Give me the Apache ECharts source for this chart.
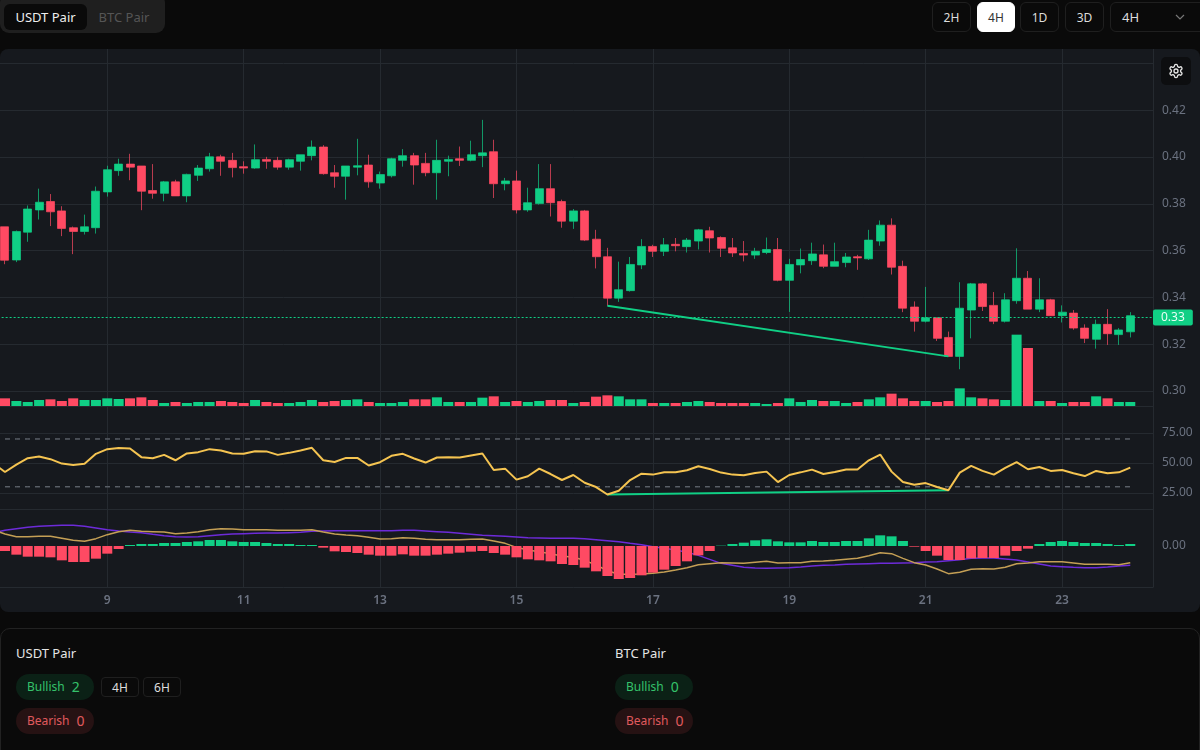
<!DOCTYPE html>
<html>
<head>
<meta charset="utf-8">
<title>USDT Pair</title>
<script src="https://cdn.jsdelivr.net/npm/echarts@6/dist/echarts.min.js"></script>
<style>
html,body{margin:0;padding:0;width:1200px;height:750px;overflow:hidden;background:#0a0a0a;font-family:"Noto Sans",sans-serif;color:#e5e5e5}
.abs{position:absolute;box-sizing:border-box}
.btn{display:flex;align-items:center;justify-content:center;border:1px solid #1f1f1f;border-radius:6px;font-size:12px;color:#ddd;background:#0a0a0a}
#panel{left:0;top:49px;width:1200px;height:563px;background:#16191e;border-radius:8px;overflow:hidden}
#main{position:absolute;left:-20px;top:0;width:1220px;height:563px}
.pill{display:flex;align-items:center;border-radius:13px;font-size:12px;padding-left:11px;padding-bottom:2px;width:78px;height:26px}
.pill b{font-weight:400;font-size:14px;margin-left:7px}
.bull{background:#0b2116;color:#35c26b}
.bear{background:#261213;color:#e05a5e}
.title{font-size:13px;color:#e5e5e5;line-height:20px}
</style>
</head>
<body>
<div class="abs" style="left:0;top:-6px;width:165px;height:39px;background:#1f1f1f;border-radius:9px"></div>
<div class="abs" style="left:4px;top:4px;width:83px;height:26px;background:#0a0a0a;border-radius:6px;display:flex;align-items:center;justify-content:center;font-size:13px;color:#eee">USDT Pair</div>
<div class="abs" style="left:87px;top:4px;width:74px;height:26px;display:flex;align-items:center;justify-content:center;font-size:13px;color:#555">BTC Pair</div>

<div class="abs btn" style="left:932px;top:2px;width:39px;height:30px">2H</div>
<div class="abs btn" style="left:977px;top:2px;width:38px;height:30px;background:#fff;color:#333;border-color:#fff">4H</div>
<div class="abs btn" style="left:1020px;top:2px;width:39px;height:30px">1D</div>
<div class="abs btn" style="left:1065px;top:2px;width:39px;height:30px">3D</div>
<div class="abs btn" style="left:1110px;top:2px;width:96px;height:30px;justify-content:flex-start;padding-left:11px;font-size:13px">4H</div>
<svg class="abs" style="left:1174px;top:11px" width="12" height="12" viewBox="0 0 12 12" fill="none" stroke="#777" stroke-width="1.2"><path d="M2 4l4 4 4-4"/></svg>

<div id="panel" class="abs"><div id="main"></div></div>
<div class="abs" style="left:1161px;top:57px;width:30px;height:28px;background:#0d0e10;border-radius:5px;display:flex;align-items:center;justify-content:center">
<svg width="16" height="16" viewBox="0 0 24 24" fill="none" stroke="#e5e5e5" stroke-width="2"><path d="M12.22 2h-.44a2 2 0 0 0-2 2v.18a2 2 0 0 1-1 1.73l-.43.25a2 2 0 0 1-2 0l-.15-.08a2 2 0 0 0-2.73.73l-.22.38a2 2 0 0 0 .73 2.73l.15.1a2 2 0 0 1 1 1.72v.51a2 2 0 0 1-1 1.74l-.15.09a2 2 0 0 0-.73 2.73l.22.38a2 2 0 0 0 2.73.73l.15-.08a2 2 0 0 1 2 0l.43.25a2 2 0 0 1 1 1.73V20a2 2 0 0 0 2 2h.44a2 2 0 0 0 2-2v-.18a2 2 0 0 1 1-1.73l.43-.25a2 2 0 0 1 2 0l.15.08a2 2 0 0 0 2.73-.73l.22-.39a2 2 0 0 0-.73-2.73l-.15-.08a2 2 0 0 1-1-1.74v-.5a2 2 0 0 1 1-1.74l.15-.09a2 2 0 0 0 .73-2.73l-.22-.38a2 2 0 0 0-2.73-.73l-.15.08a2 2 0 0 1-2 0l-.43-.25a2 2 0 0 1-1-1.73V4a2 2 0 0 0-2-2z"/><circle cx="12" cy="12" r="3"/></svg>
</div>

<div class="abs" style="left:0;top:628px;width:1200px;height:140px;border:1px solid #222;border-radius:10px"></div>
<div class="abs title" style="left:16px;top:643px">USDT Pair</div>
<div class="abs pill bull" style="left:16px;top:674px">Bullish<b>2</b></div>
<div class="abs pill bear" style="left:16px;top:708px">Bearish<b>0</b></div>
<div class="abs btn" style="left:101px;top:677px;width:38px;height:20px;border-radius:4px">4H</div>
<div class="abs btn" style="left:143px;top:677px;width:38px;height:20px;border-radius:4px">6H</div>
<div class="abs title" style="left:615px;top:643px">BTC Pair</div>
<div class="abs pill bull" style="left:615px;top:674px">Bullish<b>0</b></div>
<div class="abs pill bear" style="left:615px;top:708px">Bearish<b>0</b></div>

<script>
// 4H candles, one leading bar sits off the left edge
var opens = [.3680,
  .3702,.3560,.3679,.3774,.3810,.3770,.3698,.3682,.3698,.3851,
  .3942,.3970,.3962,.3857,.3845,.3894,.3834,.3922,.3950,.4001,
  .3986,.3959,.3953,.3990,.3986,.3957,.3982,.4006,.4043,.3933,
  .3918,.3957,.3966,.3889,.3920,.3986,.4006,.3973,.3933,.3982,
  .3993,.3986,.4006,.4023,.3886,.3898,.3774,.3801,.3865,.3810,
  .3726,.3770,.3649,.3574,.3397,.3429,.3539,.3618,.3597,.3627,
  .3617,.3641,.3685,.3656,.3612,.3588,.3581,.3592,.3605,.3473,
  .3539,.3557,.3582,.3533,.3549,.3574,.3565,.3641,.3709,.3533,
  .3359,.3298,.3313,.3229,.3148,.3346,.3458,.3366,.3298,.3386,
  .3482,.3350,.3390,.3322,.3333,.3269,.3221,.3285,.3241,.3253]
var closes = [.3700,
  .3559,.3682,.3778,.3807,.3766,.3695,.3682,.3702,.3854,.3946,
  .3970,.3957,.3854,.3845,.3894,.3834,.3926,.3953,.4001,.3982,
  .3955,.3953,.3989,.3982,.3957,.3989,.4010,.4043,.3929,.3918,
  .3962,.3963,.3894,.3925,.3993,.4006,.3966,.3933,.3986,.3990,
  .3986,.4010,.4018,.3886,.3898,.3774,.3805,.3865,.3805,.3726,
  .3770,.3645,.3574,.3397,.3433,.3541,.3618,.3597,.3625,.3621,
  .3645,.3689,.3654,.3610,.3590,.3581,.3597,.3605,.3473,.3541,
  .3562,.3586,.3533,.3553,.3573,.3569,.3645,.3709,.3529,.3354,
  .3298,.3313,.3225,.3148,.3354,.3458,.3361,.3298,.3390,.3482,
  .3350,.3390,.3322,.3337,.3269,.3225,.3285,.3245,.3261,.3322]
var lows = [.3660,
  .3542,.3551,.3638,.3733,.3705,.3662,.3585,.3669,.3673,.3831,
  .3920,.3901,.3773,.3822,.3811,.3834,.3807,.3898,.3938,.3920,
  .3913,.3929,.3950,.3950,.3946,.3946,.3942,.3986,.3925,.3869,
  .3818,.3922,.3869,.3865,.3913,.3959,.3882,.3918,.3818,.3918,
  .3962,.3982,.3957,.3825,.3858,.3759,.3766,.3797,.3746,.3698,
  .3693,.3641,.3524,.3364,.3381,.3425,.3521,.3573,.3577,.3597,
  .3592,.3605,.3592,.3573,.3573,.3554,.3565,.3585,.3469,.3338,
  .3503,.3539,.3525,.3533,.3529,.3518,.3560,.3621,.3498,.3337,
  .3254,.3293,.3214,.3148,.3093,.3225,.3342,.3286,.3293,.3373,
  .3350,.3337,.3322,.3293,.3262,.3205,.3181,.3197,.3197,.3229]
var highs = [.3720,
  .3702,.3686,.3793,.3865,.3842,.3790,.3703,.3754,.3874,.3963,
  .3993,.4014,.3962,.3970,.3898,.3903,.3929,.3966,.4018,.4010,
  .4018,.3982,.4054,.4001,.4001,.3993,.4010,.4071,.4051,.3966,
  .3962,.4078,.4010,.3938,.3997,.4034,.4018,.4018,.4074,.4006,
  .4045,.4070,.4159,.4074,.3911,.3942,.3869,.3970,.3970,.3818,
  .3778,.3774,.3689,.3612,.3553,.3573,.3649,.3625,.3654,.3654,
  .3654,.3693,.3702,.3661,.3654,.3641,.3612,.3656,.3654,.3565,
  .3609,.3634,.3626,.3634,.3590,.3582,.3689,.3729,.3738,.3557,
  .3383,.3445,.3313,.3254,.3465,.3462,.3462,.3423,.3418,.3610,
  .3513,.3482,.3394,.3366,.3346,.3285,.3305,.3350,.3269,.3337]
var volumes = [15,
  23,15,12,18,20,15,23,18,18,23,
  21,23,26,18,9,12,9,12,12,15,
  12,9,18,12,9,9,12,18,12,15,
  18,20,12,9,9,12,20,20,26,12,
  12,12,25,29,12,15,12,15,18,18,
  9,12,28,32,29,20,20,9,9,9,
  12,15,12,9,9,9,9,6,9,23,
  12,18,15,15,9,12,20,26,37,23,
  15,15,12,15,53,26,23,20,18,214,
  174,15,15,9,12,12,29,23,12,12]
var rsi = [49.5,
  42.4,48.6,53.9,55.3,53.1,49.4,48.3,49.2,57.6,61.5,
  62.4,62.1,54.8,53.9,56.7,52.2,57.9,59.0,61.5,60.4,
  57.9,57.6,59.8,59.6,56.7,58.4,60.4,62.6,52.2,50.8,
  54.2,54.2,47.8,50.6,55.9,57.6,53.7,50.3,54.5,54.8,
  54.5,56.2,57.9,44.1,45.2,36.0,38.8,45.2,40.7,35.7,
  39.9,33.4,29.8,23.6,26.7,35.7,41.0,40.2,42.1,42.1,
  43.8,47.2,44.9,41.9,40.2,39.6,41.6,42.7,34.0,39.9,
  42.1,44.4,40.7,42.4,44.4,44.4,52.2,57.0,42.7,34.0,
  31.7,33.1,29.8,27.2,41.9,47.5,43.3,40.2,45.8,50.6,
  44.7,46.6,43.3,44.1,41.3,39.0,43.3,41.3,42.1,46.1]
// MACD values are in the picture's own units, the pane only labels zero
var macdHist = [-8,
  -15,-26,-32,-32,-34,-43,-48,-48,-38,-23,
  -9,3,6,6,9,9,12,14,18,18,
  14,12,12,9,6,6,3,3,-5,-16,
  -18,-21,-26,-29,-29,-25,-29,-29,-26,-23,
  -20,-17,-15,-21,-26,-34,-40,-43,-46,-54,
  -57,-65,-76,-90,-99,-96,-88,-80,-71,-60,
  -46,-28,-15,1,6,10,17,20,14,11,
  11,15,12,12,15,15,23,32,29,15,
  -2,-15,-29,-42,-42,-37,-36,-36,-29,-15,
  -8,6,12,15,12,9,9,6,3,6]
var macdLine = [48,
  36,28,28,29,29,23,17,14,22,34,
  43,47,44,43,42,37,39,43,49,52,
  51,49,49,49,47,47,47,49,42,36,
  33,31,26,21,22,25,23,20,19,19,
  19,20,21,15,8,-4,-12,-17,-23,-30,
  -34,-43,-57,-74,-85,-85,-84,-82,-78,-72,
  -65,-56,-53,-50,-51,-52,-49,-46,-51,-50,
  -50,-46,-45,-43,-40,-37,-29,-20,-23,-37,
  -50,-57,-69,-83,-79,-70,-68,-69,-64,-53,
  -51,-47,-47,-47,-51,-55,-55,-55,-56,-50]
var signalLine = [40,
  47,52,56,59,61,62,62,59,54,49,
  45,42,40,35,31,28,27,28,31,34,
  36,37,38,39,39,40,41,44,45,46,
  46,46,46,46,46,47,47,45,43,41,
  38,35,32,31,29,27,25,24,23,23,
  23,22,19,16,13,8,4,-2,-7,-12,
  -19,-28,-40,-52,-58,-64,-66,-67,-66,-65,
  -63,-60,-58,-57,-55,-54,-53,-52,-52,-51,
  -50,-48,-47,-44,-41,-37,-36,-36,-39,-42,
  -48,-54,-60,-62,-64,-65,-65,-63,-60,-58]
var priceDivergence = [[54, 0.3364], [84, 0.3148]]
var rsiDivergence = [[54, 23.6], [84, 27.2]]
var rsiUpper = 70
var rsiLower = 30
var lastPrice = 0.3314
var tickDays = ['9', '11', '13', '15', '17', '19', '21', '23']

// day 7 08:00 onward, label is the bare day number at midnight
var categories = []
for (var k = 0; k < 103; k++) {
    var h = 8 + k * 4
    var d = 7 + Math.floor(h / 24)
    var hh = h % 24
    categories.push(hh == 0 ? String(d) : d + ' ' + hh + ':00')
}

var UP = '#10cf85'
var DOWN = '#ff4a63'
var LINE = '#252a30'
var AXIS_TEXT = '#6b7280'
var isTick = function (i, v) { return tickDays.indexOf(categories[i]) >= 0 }

function xAxisFor(gridIndex, extra) {
    return Object.assign({
        type: 'category',
        gridIndex: gridIndex,
        data: categories,
        boundaryGap: false,
        axisLine: { show: false },
        axisTick: { show: false },
        axisLabel: { show: false },
        splitLine: { show: false }
    }, extra || {})
}
function hiddenY(gridIndex, extra) {
    return Object.assign({
        type: 'value',
        gridIndex: gridIndex,
        position: 'right',
        axisLine: { show: false },
        axisTick: { show: false },
        axisLabel: { show: false },
        splitLine: { show: false }
    }, extra || {})
}
var grids = [0, 14.5, 0, 384, 460].map(function (top, i) {
    return { left: 13.625, right: 47, top: top, height: [538, 327.5, 357, 59.8, 78][i] }
})
var option = {
    animation: false,
    textStyle: { fontFamily: 'Noto Sans' },
    grid: grids,
    xAxis: [
        xAxisFor(0, {
            axisLine: { show: true, lineStyle: { color: LINE } },
            axisLabel: { show: true, interval: isTick, color: AXIS_TEXT, fontSize: 12, fontWeight: 600, margin: 8 },
            splitLine: { show: true, interval: isTick, lineStyle: { color: LINE } }
        }),
        xAxisFor(1),
        xAxisFor(2, { axisLine: { show: true, lineStyle: { color: LINE } } }),
        xAxisFor(3),
        xAxisFor(4, { position: 'top', axisLine: { show: true, onZero: false, lineStyle: { color: LINE } } })
    ],
    yAxis: [
        hiddenY(0, { min: 0, max: 1, axisLine: { show: true, lineStyle: { color: LINE } } }),
        hiddenY(1, {
            min: 0.30, max: 0.44, interval: 0.02,
            axisLabel: {
                show: true, color: AXIS_TEXT, fontSize: 12, margin: 9, padding: [4, 0, 0, 0],
                formatter: function (v) { return v > 0.43 ? '' : v.toFixed(2) }
            },
            splitLine: { show: true, lineStyle: { color: LINE } }
        }),
        hiddenY(2, { min: 0, max: 1071 }),
        hiddenY(3, {
            min: 25, max: 75, interval: 25,
            axisLabel: {
                show: true, color: AXIS_TEXT, fontSize: 12, margin: 9, padding: [4, 0, 0, 0],
                formatter: function (v) { return v.toFixed(2) }
            },
            splitLine: { show: true, lineStyle: { color: LINE } }
        }),
        hiddenY(4, {
            min: -123, max: 111,
            axisLabel: {
                show: true, color: AXIS_TEXT, fontSize: 12, margin: 9, customValues: [0], padding: [4, 0, 0, 0],
                formatter: function (v) { return Number(v).toFixed(2) }
            }
        })
    ],
    series: [
        {
            name: 'Price', type: 'candlestick', xAxisIndex: 1, yAxisIndex: 1, barWidth: 8.5,
            data: opens.map(function (o, i) { return [o, closes[i], lows[i], highs[i]] }),
            itemStyle: { color: UP, color0: DOWN, borderColor: UP, borderColor0: DOWN, borderWidth: 0.7 },
            markLine: {
                silent: true, symbol: 'none', animation: false, precision: 4,
                data: [{ yAxis: lastPrice }],
                lineStyle: { color: UP, type: [2, 2], width: 1 },
                label: {
                    position: 'end', distance: 0, formatter: '0.33', color: '#e8fff5', fontSize: 12,
                    backgroundColor: UP, borderRadius: 2, padding: [2, 8, 2, 8]
                }
            }
        },
        {
            name: 'Price divergence', type: 'line', xAxisIndex: 1, yAxisIndex: 1, data: priceDivergence,
            symbol: 'none', lineStyle: { color: UP, width: 2 }, z: 4
        },
        {
            name: 'Volume', type: 'bar', xAxisIndex: 2, yAxisIndex: 2, barWidth: 10, z: 3,
            data: volumes.map(function (v, i) {
                return { value: v, itemStyle: { color: closes[i] >= opens[i] ? UP : DOWN } }
            })
        },
        {
            name: 'RSI', type: 'line', xAxisIndex: 3, yAxisIndex: 3, data: rsi, clip: false,
            symbol: 'none', lineStyle: { color: '#f5c451', width: 2 }, z: 4
        },
        {
            name: 'RSI divergence', type: 'line', xAxisIndex: 3, yAxisIndex: 3, data: rsiDivergence, clip: false,
            symbol: 'none', lineStyle: { color: UP, width: 2 }, z: 3
        },
        {
            name: 'RSI upper', type: 'line', xAxisIndex: 3, yAxisIndex: 3, symbol: 'none',
            data: rsi.map(function (v, i) { return i == 0 ? null : rsiUpper }),
            lineStyle: { color: '#7a808a', width: 1, type: [5, 5] }, clip: false
        },
        {
            name: 'RSI lower', type: 'line', xAxisIndex: 3, yAxisIndex: 3, symbol: 'none',
            data: rsi.map(function (v, i) { return i == 0 ? null : rsiLower }),
            lineStyle: { color: '#7a808a', width: 1, type: [5, 5] }, clip: false
        },
        {
            name: 'Signal', type: 'line', xAxisIndex: 4, yAxisIndex: 4, data: signalLine,
            symbol: 'none', lineStyle: { color: '#6d2bd9', width: 1.5 }, z: 2
        },
        {
            name: 'MACD', type: 'line', xAxisIndex: 4, yAxisIndex: 4, data: macdLine,
            symbol: 'none', lineStyle: { color: '#c49f55', width: 1.5 }, z: 2
        },
        {
            name: 'Histogram', type: 'bar', xAxisIndex: 4, yAxisIndex: 4, barWidth: 10, z: 3,
            data: macdHist.map(function (v) {
                return { value: v, itemStyle: { color: v >= 0 ? UP : DOWN } }
            })
        }
    ]
}
var chart = echarts.init(document.getElementById('main'))
chart.setOption(option)
</script>
</body>
</html>
